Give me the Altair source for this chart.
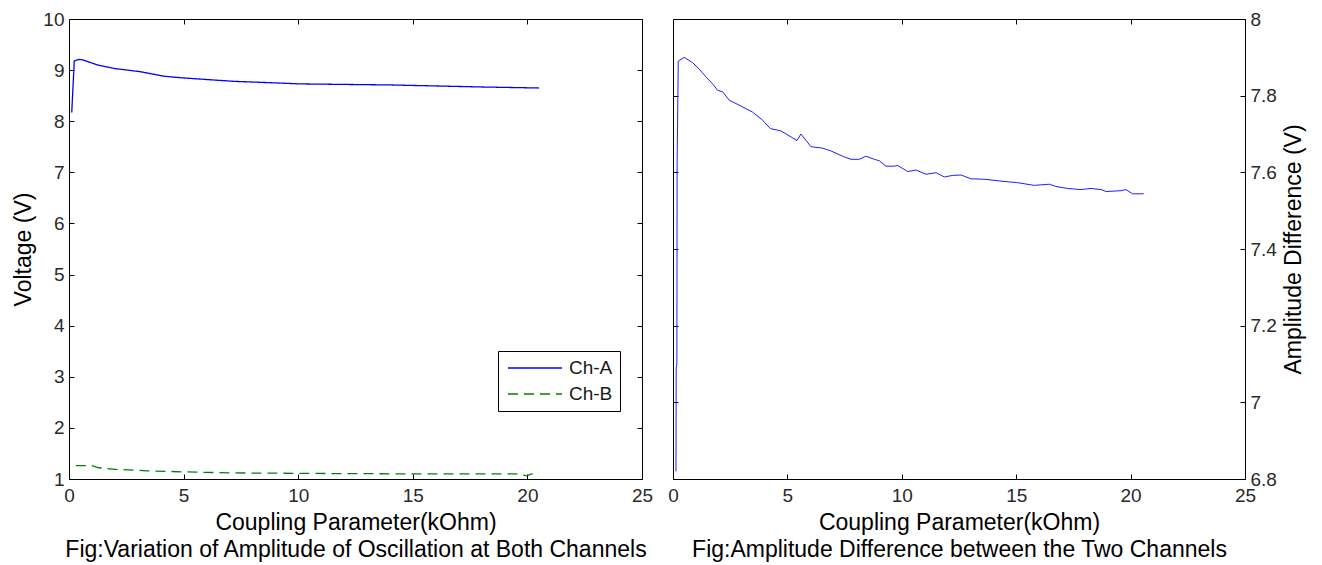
import altair as alt
import pandas as pd

# ---- data ----
coupling_a = [0.12, 0.20, 0.23, 0.45, 0.60, 1.25, 2.0, 3.1, 4.15, 4.9, 6.2, 7.2, 9.0, 10.1,
              12.0, 14.0, 16.0, 18.0, 20.5]
ch_a = [8.17, 8.90, 9.18, 9.21, 9.20, 9.10, 9.03, 8.97, 8.88, 8.85, 8.81, 8.78, 8.75, 8.73,
        8.72, 8.71, 8.69, 8.67, 8.65]

coupling_b = [0.30, 1.0, 1.3, 2.0, 3.4, 5.0, 7.0, 10.0, 15.0, 19.7, 19.95, 20.2, 20.5]
ch_b = [1.26, 1.26, 1.22, 1.19, 1.16, 1.14, 1.12, 1.11, 1.10, 1.10, 1.06, 1.10, 1.12]

coupling_d = [0.13, 0.14, 0.17, 0.18, 0.23, 0.49, 0.86, 1.15, 1.44, 1.73, 1.95, 2.17, 2.46,
              2.97, 3.48, 3.92, 4.0, 4.26, 4.72, 5.42, 5.59, 6.03, 6.54, 6.9, 7.49, 7.78,
              8.14, 8.43, 8.8, 9.02, 9.31, 9.67, 9.82, 10.26, 10.62, 11.06, 11.5, 11.86,
              12.23, 12.59, 13.03, 13.6, 14.34, 15.06, 15.79, 16.45, 16.74, 17.25, 17.83,
              18.27, 18.71, 18.93, 19.58, 19.8, 20.09, 20.57]
amp_diff = [6.82, 7.09, 7.10, 7.62, 7.89, 7.90, 7.886, 7.869, 7.849, 7.831, 7.814, 7.81,
            7.788, 7.773, 7.757, 7.736, 7.73, 7.714, 7.708, 7.683, 7.70, 7.667, 7.663,
            7.656, 7.64, 7.634, 7.634, 7.642, 7.634, 7.63, 7.616, 7.616, 7.618, 7.602,
            7.606, 7.595, 7.599, 7.588, 7.592, 7.593, 7.583, 7.582, 7.577, 7.573, 7.566,
            7.569, 7.563, 7.558, 7.555, 7.558, 7.555, 7.55, 7.552, 7.555, 7.544, 7.544]

series_names = ["Ch-A", "Ch-B"]
x_ticks = [0, 5, 10, 15, 20, 25]
left_y_ticks = [1, 2, 3, 4, 5, 6, 7, 8, 9, 10]
right_y_ticks = [6.8, 7.0, 7.2, 7.4, 7.6, 7.8, 8.0]

x_title = "Coupling Parameter(kOhm)"
left_caption = "Fig:Variation of Amplitude of Oscillation at Both Channels"
right_caption = "Fig:Amplitude Difference between the Two Channels"

FONT = "Liberation Sans"
W_L, W_R, H = 573, 572, 460

df_left = pd.concat([
    pd.DataFrame({"x": coupling_a, "y": ch_a, "series": series_names[0]}),
    pd.DataFrame({"x": coupling_b, "y": ch_b, "series": series_names[1]}),
])
df_right = pd.DataFrame({"x": coupling_d, "y": amp_diff})

common_axis = dict(
    domain=False, ticks=False, grid=True, gridColor="black", gridOpacity=1, gridWidth=1,
    labelFont=FONT, labelFontSize=19, labelColor="#2a2a2a",
    titleFont=FONT, titleFontSize=23, titleColor="black", titleFontWeight="normal",
)


def x_axis(caption):
    return alt.Axis(values=x_ticks, title=[x_title, caption], titleLineHeight=27,
                    labelPadding=7, titlePadding=6, gridDash=[5, H - 10, 5, 2000],
                    labelFlush=False, **common_axis)


left = alt.Chart(df_left).mark_line(strokeWidth=1.3).encode(
    x=alt.X("x:Q", scale=alt.Scale(domain=[0, 25], nice=False), axis=x_axis(left_caption)),
    y=alt.Y("y:Q", scale=alt.Scale(domain=[1, 10], nice=False, zero=False),
            axis=alt.Axis(values=left_y_ticks, title="Voltage (V)", labelPadding=5,
                          titlePadding=7, gridDash=[5, W_L - 10, 5, 2000], **common_axis)),
    color=alt.Color("series:N", scale=alt.Scale(domain=series_names, range=["#0000ff", "#008000"]),
                    legend=alt.Legend(title=None)),
    strokeDash=alt.StrokeDash("series:N", scale=alt.Scale(domain=series_names, range=[[1, 0], [10, 6]]),
                              legend=alt.Legend(title=None)),
).properties(width=W_L, height=H)

right = alt.Chart(df_right).mark_line(strokeWidth=1, color="#1f1fff").encode(
    x=alt.X("x:Q", scale=alt.Scale(domain=[0, 25], nice=False), axis=x_axis(right_caption)),
    y=alt.Y("y:Q", scale=alt.Scale(domain=[6.8, 8.0], nice=False, zero=False),
            axis=alt.Axis(values=right_y_ticks, orient="right", format="~g",
                          title="Amplitude Difference (V)", titleAngle=270, titleBaseline="top",
                          labelPadding=5, titlePadding=6, gridDash=[5, W_R - 10, 5, 2000],
                          **common_axis)),
).properties(width=W_R, height=H)

chart = alt.hconcat(left, right, spacing=31, bounds="flush").configure_view(
    stroke="black", strokeWidth=1
).configure_legend(
    orient="none", legendX=429, legendY=332, strokeColor="black", fillColor="white",
    padding=7, symbolType="M-3,0H3", symbolSize=324, symbolStrokeWidth=1.3,
    symbolOffset=20, labelOffset=24,
    labelFont=FONT, labelFontSize=19, labelColor="#1a1a1a", rowPadding=6,
    cornerRadius=0,
).properties(
    padding={"left": 12, "top": 9, "right": 5, "bottom": 5}, background="white"
)

chart.save("out.html", embed_options={"renderer": "svg", "actions": False})
